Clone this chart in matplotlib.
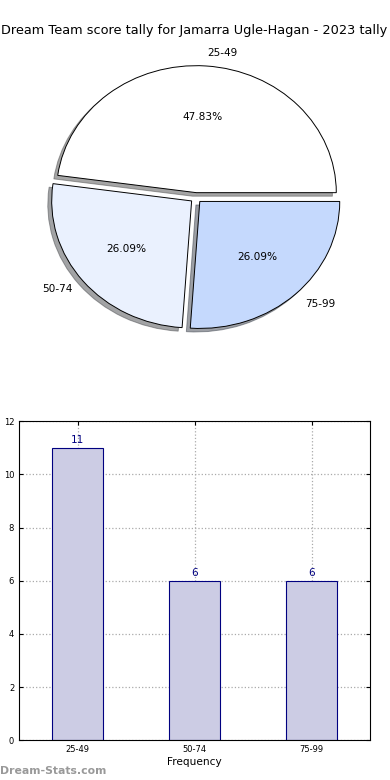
import numpy as np
import matplotlib
matplotlib.use("Agg")
import matplotlib.pyplot as plt

# score bands and counts
bands = ["25-49", "50-74", "75-99"]
counts = [11, 6, 6]
pie_colors = ["#ffffff", "#eaf1fe", "#c5d9fd"]
title = "Dream Team score tally for Jamarra Ugle-Hagan - 2023 tally"

fig = plt.figure(figsize=(3.9, 7.8), dpi=100)

# pie chart on top
ax1 = fig.add_axes([0.054, 0.543, 0.897, 0.407])
ax1.pie(counts, labels=bands, colors=pie_colors, autopct="%.2f%%",
        explode=[0.04, 0.04, 0.04], shadow=True, startangle=0,
        wedgeprops={"edgecolor": "black", "linewidth": 0.7},
        textprops={"fontsize": 7.6})
ax1.set_aspect("auto")
ax1.set_xlim(-1.25, 1.25)
ax1.set_ylim(-1.25, 1.25)
fig.text(0.497, 0.961, title, ha="center", va="center", fontsize=9.3)

# bar chart below
ax2 = fig.add_axes([0.049, 0.051, 0.9, 0.409])
x = np.arange(len(bands))
ax2.bar(x, counts, width=0.44, color="#ccccE4", edgecolor="navy", linewidth=0.8, zorder=2)
for xi, c in zip(x, counts):
    ax2.text(xi, c + 0.1, str(c), ha="center", va="bottom", color="navy", fontsize=7.6)
ax2.set_xlim(-0.5, 2.5)
ax2.set_ylim(0, 12)
ax2.set_xticks(x)
ax2.set_xticklabels(bands)
ax2.set_yticks(range(0, 13, 2))
ax2.tick_params(labelsize=6, direction="in", top=True, right=True, length=3)
ax2.grid(True, linestyle=":", color="#aaaaaa", linewidth=0.9, zorder=0)
ax2.set_axisbelow(True)
ax2.set_xlabel("Frequency", fontsize=7.6, labelpad=2)
ax2.set_ylabel("Score Interval", fontsize=7.6, labelpad=2)

fig.text(0.0, 0.012, "Dream-Stats.com", color="#999999", fontsize=7.8,
         fontweight="bold", ha="left", va="center")

fig.savefig("out.png", dpi=100)
